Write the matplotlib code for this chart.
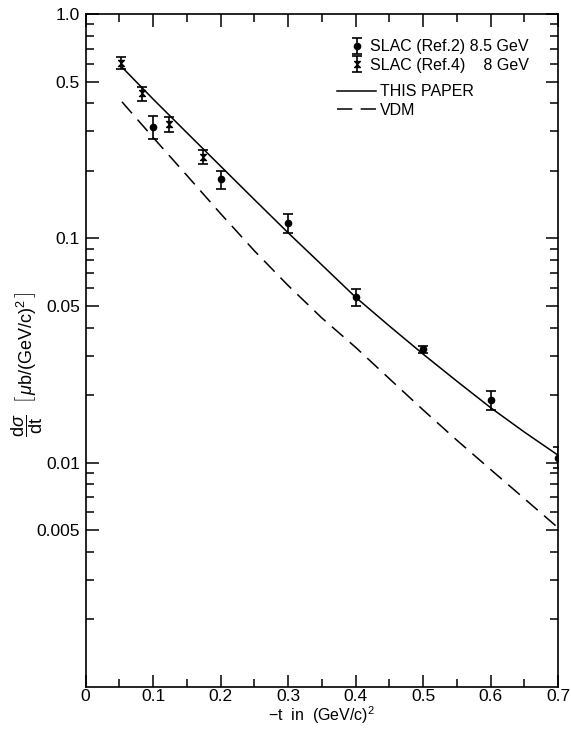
import matplotlib
matplotlib.use("Agg")
import matplotlib.pyplot as plt
from matplotlib.ticker import FixedLocator, FixedFormatter, NullFormatter

plt.rcParams['font.family'] = ['Liberation Sans', 'DejaVu Sans']
plt.rcParams['mathtext.fontset'] = 'custom'
plt.rcParams['mathtext.rm'] = 'Liberation Sans'
plt.rcParams['mathtext.it'] = 'Liberation Sans:italic'

# --- data ---
# SLAC (Ref.2) 8.5 GeV
t_ref2 = [0.10, 0.20, 0.30, 0.40, 0.50, 0.60, 0.70]
ds_ref2 = [0.313, 0.183, 0.117, 0.0550, 0.0320, 0.0190, 0.0105]
lo_ref2 = [0.278, 0.166, 0.106, 0.0501, 0.0307, 0.0172, 0.00944]
hi_ref2 = [0.351, 0.200, 0.128, 0.0596, 0.0331, 0.0209, 0.0117]

# SLAC (Ref.4) 8 GeV
t_ref4 = [0.052, 0.083, 0.123, 0.174]
ds_ref4 = [0.603, 0.443, 0.323, 0.231]
lo_ref4 = [0.567, 0.411, 0.299, 0.214]
hi_ref4 = [0.645, 0.474, 0.349, 0.248]

# THIS PAPER (solid)
t_fit = [0.052, 0.10, 0.15, 0.20, 0.25, 0.30, 0.35, 0.40, 0.45, 0.50, 0.55, 0.60, 0.65, 0.70]
ds_fit = [0.588, 0.418, 0.296, 0.210, 0.149, 0.106, 0.0762, 0.0547, 0.0407, 0.0305,
          0.0231, 0.0176, 0.0137, 0.0108]

# VDM (dashed)
t_vdm = [0.054, 0.10, 0.15, 0.20, 0.25, 0.30, 0.35, 0.40, 0.45, 0.50, 0.55, 0.60, 0.65, 0.70]
ds_vdm = [0.406, 0.282, 0.191, 0.129, 0.0881, 0.0617, 0.0442, 0.0327, 0.0237, 0.0172,
          0.0126, 0.00933, 0.00692, 0.00513]

x_ticks = [0, 0.1, 0.2, 0.3, 0.4, 0.5, 0.6, 0.7]
x_labels = ['0', '0.1', '0.2', '0.3', '0.4', '0.5', '0.6', '0.7']
x_minor = [0.05, 0.15, 0.25, 0.35, 0.45, 0.55, 0.65]
y_ticks = [0.005, 0.01, 0.05, 0.1, 0.5, 1.0]
y_labels = ['0.005', '0.01', '0.05', '0.1', '0.5', '1.0']
y_minor = [m * d for d in (0.001, 0.01, 0.1) for m in (2, 3, 4, 6, 7, 8, 9)]

# --- figure ---
fig = plt.figure(figsize=(5.71, 7.29), dpi=100)
W, H = 571, 729
ax = fig.add_axes([85.5 / W, 1 - 687 / H, (558 - 85.5) / W, (687 - 14) / H])

err2 = [[d - l for d, l in zip(ds_ref2, lo_ref2)], [h - d for d, h in zip(ds_ref2, hi_ref2)]]
err4 = [[d - l for d, l in zip(ds_ref4, lo_ref4)], [h - d for d, h in zip(ds_ref4, hi_ref4)]]

h2 = ax.errorbar(t_ref2, ds_ref2, yerr=err2, fmt='o', color='black', ms=4.5,
                 elinewidth=1.2, capsize=3.5, capthick=1.2, zorder=3)
bowtie = [(-1, 1), (1, 1), (-1, -1), (1, -1), (-1, 1)]
h4 = ax.errorbar(t_ref4, ds_ref4, yerr=err4, fmt='none', color='black',
                 elinewidth=1.2, capsize=3.5, capthick=1.2, zorder=3)
m4 = ax.plot(t_ref4, ds_ref4, linestyle='none', marker=bowtie, ms=4.5, color='black',
             markeredgewidth=0.8, zorder=4)[0]
hfit, = ax.plot(t_fit, ds_fit, color='black', lw=1.1)
hvdm, = ax.plot(t_vdm, ds_vdm, color='black', lw=1.1, dashes=(10, 5.5))

ax.set_yscale('log')
ax.set_xlim(0, 0.7)
ax.set_ylim(0.001, 1.0)

ax.xaxis.set_major_locator(FixedLocator(x_ticks))
ax.xaxis.set_major_formatter(FixedFormatter(x_labels))
ax.xaxis.set_minor_locator(FixedLocator(x_minor))
ax.yaxis.set_major_locator(FixedLocator(y_ticks))
ax.yaxis.set_major_formatter(FixedFormatter(y_labels))
ax.yaxis.set_minor_locator(FixedLocator(y_minor))
ax.yaxis.set_minor_formatter(NullFormatter())

ax.tick_params(which='both', direction='in', top=True, right=True, width=1.1,
               labelsize=12.5)
ax.tick_params(which='major', length=9, pad=4)
ax.tick_params(which='minor', length=5.5)
ax.tick_params(axis='x', which='major', pad=1.5)
for s in ax.spines.values():
    s.set_linewidth(1.2)

ax.set_xlabel(r'$-$t  in  (GeV/c)$^{2}$', fontsize=11.5, labelpad=0)
ax.set_ylabel(r'$\dfrac{\mathrm{d}\sigma}{\mathrm{dt}}$  $\left[\,\mu\mathrm{b/(GeV/c)}^{2}\,\right]$',
              fontsize=13)
ax.yaxis.set_label_coords(-0.085, 0.48)

# legends
leg1 = ax.legend([h2, (h4, m4)], ['SLAC (Ref.2) 8.5 GeV', 'SLAC (Ref.4)    8 GeV'],
                 loc='center left', bbox_to_anchor=(349 / W, 1 - 56 / H),
                 bbox_transform=fig.transFigure, frameon=False, fontsize=11.5,
                 handlelength=1.0, handletextpad=0.3, labelspacing=0.2,
                 borderpad=0, borderaxespad=0)
ax.add_artist(leg1)
ax.legend([hfit, hvdm], ['THIS PAPER', 'VDM'],
          loc='center left', bbox_to_anchor=(337 / W, 1 - 101 / H),
          bbox_transform=fig.transFigure, frameon=False, fontsize=11.5,
          handlelength=2.45, handletextpad=0.25, labelspacing=0.2,
          borderpad=0, borderaxespad=0)

plt.savefig('out.png', dpi=100)
